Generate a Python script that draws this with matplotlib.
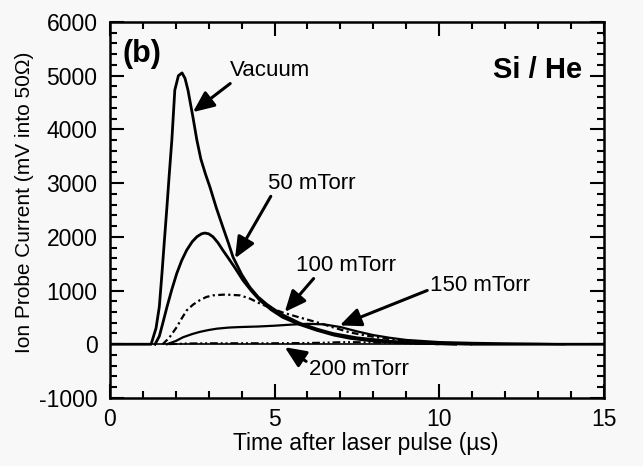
import matplotlib.pyplot as plt
from matplotlib.ticker import MultipleLocator

plt.rcParams['font.family'] = ['Liberation Sans', 'DejaVu Sans']
plt.rcParams['axes.unicode_minus'] = False

# Vacuum
t_vac = [0, 1.25, 1.4, 1.5, 1.58, 1.65, 1.73, 1.8, 1.88, 1.97, 2.08, 2.19, 2.28, 2.37,
         2.52, 2.64, 2.76, 2.9, 3.04, 3.23, 3.43, 3.6, 3.74, 4.0, 4.25, 4.5, 4.77,
         5.2, 5.77, 6.3, 6.77, 7.5, 8.5, 9.5, 11, 15]
y_vac = [0, 0, 300, 700, 1320, 1900, 2550, 3150, 3800, 4730, 5000, 5050, 4950, 4730,
         4230, 3800, 3450, 3170, 2920, 2540, 2180, 1880, 1620, 1300, 1060, 880, 740,
         560, 390, 280, 200, 120, 55, 20, 0, 0]

# 50 mTorr
t_50 = [1.37, 1.5, 1.6, 1.73, 1.88, 2.03, 2.18, 2.33, 2.5, 2.64, 2.78, 2.88, 3.0,
        3.13, 3.28, 3.43, 3.6, 3.8, 4.04, 4.3, 4.55, 4.9, 5.25, 5.75, 6.28, 6.8,
        7.29, 8.0, 9.0, 10.5]
y_50 = [0, 150, 380, 690, 1020, 1320, 1560, 1750, 1910, 2000, 2055, 2070, 2055,
        2000, 1890, 1750, 1600, 1420, 1190, 990, 820, 640, 500, 370, 260, 170,
        110, 60, 25, 0]

# 100 mTorr
t_100 = [1.6, 1.8, 2.03, 2.18, 2.33, 2.53, 2.73, 2.93, 3.13, 3.5, 3.95, 4.25, 4.55,
         4.9, 5.25, 5.75, 6.28, 6.8, 7.29, 7.8, 8.3, 9.0, 10.0, 11.0]
y_100 = [0, 120, 320, 480, 630, 740, 820, 880, 910, 925, 910, 850, 760, 670, 590,
         500, 410, 310, 220, 160, 110, 60, 25, 0]

# 150 mTorr
t_150 = [1.73, 2.0, 2.22, 2.5, 2.73, 3.0, 3.25, 3.6, 3.95, 4.5, 5.0, 5.5, 6.0, 6.5,
         7.0, 7.5, 8.0, 8.5, 9.0, 10.0, 11.0, 12.0, 13.0, 13.8]
y_150 = [0, 60, 130, 190, 230, 265, 290, 310, 320, 330, 345, 365, 380, 370, 320,
         240, 170, 120, 80, 40, 25, 15, 8, 0]

# 200 mTorr
t_200 = [1.8, 2.3, 3.0, 4.0, 5.0, 6.0, 6.5, 7.0, 7.5, 8.5, 10.0]
y_200 = [0, 15, 20, 20, 20, 25, 30, 40, 40, 25, 0]

fig = plt.figure(figsize=(6.43, 4.66), dpi=100, facecolor='#f8f8f8')
ax = fig.add_axes([0.171, 0.146, 0.768, 0.807])
ax.set_facecolor('#f8f8f8')

ax.axhline(0, color='black', linewidth=1.2)
ax.plot(t_vac, y_vac, color='black', linewidth=2.0)
ax.plot(t_50, y_50, color='black', linewidth=2.0)
ax.plot(t_100, y_100, color='black', linewidth=1.6, linestyle=(0, (3, 1.5, 1, 1.5)))
ax.plot(t_150, y_150, color='black', linewidth=1.6)
ax.plot(t_200, y_200, color='black', linewidth=1.4, linestyle=(0, (4, 1.5, 1, 1.5, 1, 1.5)))

ax.set_xlim(0, 15)
ax.set_ylim(-1000, 6000)
ax.xaxis.set_major_locator(MultipleLocator(5))
ax.xaxis.set_minor_locator(MultipleLocator(1))
ax.yaxis.set_major_locator(MultipleLocator(1000))
ax.yaxis.set_minor_locator(MultipleLocator(200))
ax.tick_params(which='both', direction='in', top=True, right=True, width=1.5,
               labelsize=16.5)
ax.tick_params(which='major', length=10)
ax.tick_params(axis='y', which='major', pad=9)
ax.tick_params(axis='x', which='major', pad=7)
ax.tick_params(which='minor', length=5)
for s in ax.spines.values():
    s.set_linewidth(1.8)

ax.set_xlabel('Time after laser pulse (\u00b5s)', fontsize=16.5)
ax.set_ylabel('Ion Probe Current (mV into 50\u03a9)', fontsize=15)
ax.xaxis.set_label_coords(0.518, -0.09)
ax.yaxis.set_label_coords(-0.153, 0.52)

ax.text(0.39, 5400, '(b)', fontsize=22, fontweight='bold', va='center')
ax.text(14.33, 5100, 'Si / He', fontsize=21, fontweight='bold', va='center', ha='right')

arrow = dict(arrowstyle='-|>,head_length=0.8,head_width=0.35', color='black', lw=2.2,
             shrinkA=0, shrinkB=0)
ax.annotate('Vacuum', xy=(2.52, 4320), xytext=(4.86, 5100), fontsize=16,
            ha='center', va='center', arrowprops=dict(arrow, relpos=(0.05, 0.0)))
ax.annotate('50 mTorr', xy=(3.8, 1600), xytext=(6.13, 3000), fontsize=16,
            ha='center', va='center', arrowprops=dict(arrow, relpos=(0.05, 0.0)))
ax.annotate('100 mTorr', xy=(5.31, 600), xytext=(7.17, 1470), fontsize=16,
            ha='center', va='center', arrowprops=dict(arrow, relpos=(0.2, 0.0)))
ax.annotate('150 mTorr', xy=(6.98, 350), xytext=(11.24, 1100), fontsize=16,
            ha='center', va='center', arrowprops=dict(arrow, relpos=(0.0, 0.3)))
ax.annotate('200 mTorr', xy=(5.31, -55), xytext=(7.56, -470), fontsize=16,
            ha='center', va='center', arrowprops=dict(arrow, relpos=(0.0, 0.8)))

fig.savefig('out.png', dpi=100, facecolor=fig.get_facecolor())
